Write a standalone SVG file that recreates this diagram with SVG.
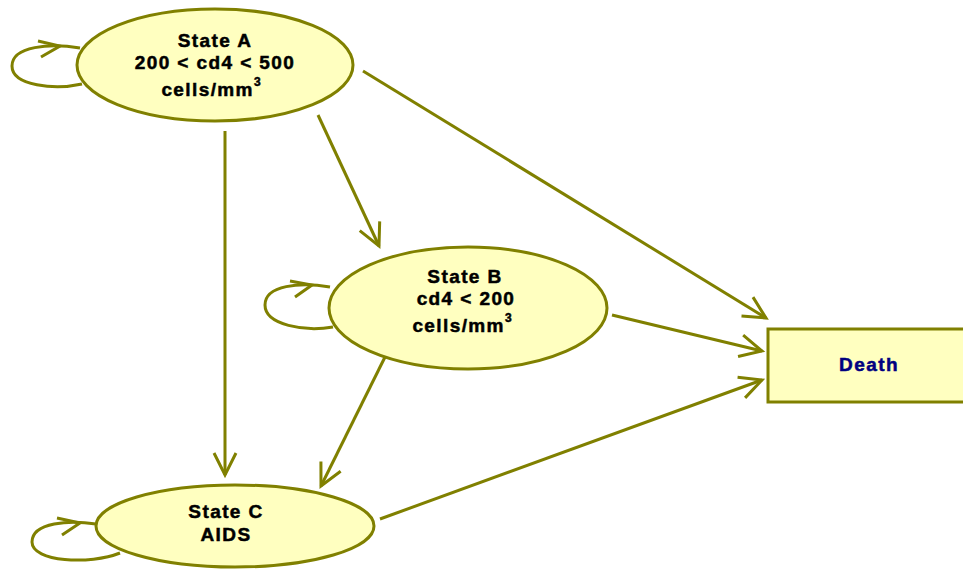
<svg xmlns="http://www.w3.org/2000/svg" width="963" height="569" viewBox="0 0 963 569">
<defs>
<marker id="ah2" markerWidth="28" markerHeight="28" viewBox="-24 -14 28 28" refX="0" refY="0" orient="auto" markerUnits="userSpaceOnUse">
<path d="M-22,-11 L0,0 L-22,11" fill="none" stroke="#808000" stroke-width="3"/>
</marker>
<style>
.node{fill:#ffffc0;stroke:#808000;stroke-width:3}
.edge{fill:none;stroke:#808000;stroke-width:3;marker-end:url(#ah2)}
.loop{fill:none;stroke:#808000;stroke-width:3}
.t{font-family:"Liberation Sans",Arial,sans-serif;font-weight:bold;font-size:19px;letter-spacing:1.4px;text-anchor:middle;fill:#000;stroke:#000;stroke-width:0.5}
.d{fill:#000080;stroke:#000080}
.sup{font-size:12px;letter-spacing:0}
</style>
</defs>
<g id="connectors">
<path class="edge" d="M363,71 L766,318"/>
<path class="edge" d="M318,115 L379,246"/>
<path class="edge" d="M225,131 L225,475"/>
<path class="edge" d="M612,315 L762,351"/>
<path class="edge" d="M387,353 L321,486"/>
<path class="edge" d="M380,519 L762,380"/>
<path class="loop" d="M82,84 C55,90 12,86 12,66 C12,46 50,43 80,48"/>
<path class="loop" d="M38,41 L60,46 L41,57"/>
<path class="loop" d="M333,327 C305,332 265,325 265,305 C265,285 300,282 330,287"/>
<path class="loop" d="M290,281 L312,285 L295,297"/>
<path class="loop" d="M120,553 C90,565 32,562 32,542 C32,522 70,520 96,524"/>
<path class="loop" d="M57,518 L80,523 L62,535"/>
</g>
<g id="stateA">
<ellipse class="node" cx="215" cy="65" rx="138" ry="56"/>
<text class="t" x="215" y="47">State A</text>
<text class="t" x="215" y="69">200 &lt; cd4 &lt; 500</text>
<text class="t" x="211" y="96">cells/mm<tspan class="sup" dy="-10">3</tspan></text>
</g>
<g id="stateB">
<ellipse class="node" cx="468" cy="308" rx="139" ry="61"/>
<text class="t" x="465" y="283">State B</text>
<text class="t" x="466" y="305">cd4 &lt; 200</text>
<text class="t" x="462" y="332">cells/mm<tspan class="sup" dy="-10">3</tspan></text>
</g>
<g id="stateC">
<ellipse class="node" cx="235" cy="526" rx="139" ry="41"/>
<text class="t" x="226" y="518">State C</text>
<text class="t" x="226" y="541">AIDS</text>
</g>
<g id="death">
<rect class="node" x="768" y="329" width="200" height="73"/>
<text class="t d" x="869" y="371">Death</text>
</g>
</svg>
